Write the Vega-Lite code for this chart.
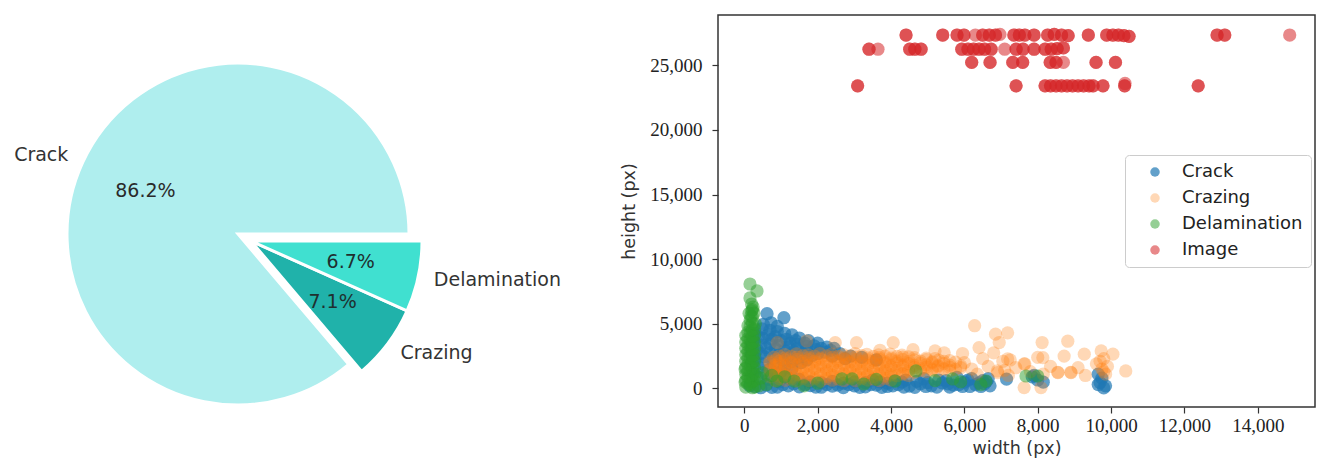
{
  "$schema": "https://vega.github.io/schema/vega-lite/v6.json",
  "background": "white",
  "padding": {"left": 0, "top": 14, "right": 0, "bottom": 0},
  "config": {"view": {"stroke": null}, "font": "DejaVu Sans"},
  "spacing": 243,
  "bounds": "flush",
  "resolve": {"scale": {"color": "independent"}, "legend": {"color": "independent"}},
  "datasets": {
    "pie": [
      {"category": "Crack", "share": 0.862},
      {"category": "Crazing", "share": 0.071},
      {"category": "Delamination", "share": 0.067}
    ],
    "pts": [
      {"type":"Crack","w":300,"h":4250},{"type":"Crack","w":480,"h":4600},{"type":"Crack","w":700,"h":4500},{"type":"Crack","w":900,"h":4400},{"type":"Crack","w":1100,"h":4250},{"type":"Crack","w":1300,"h":4150},{"type":"Crack","w":1500,"h":3900},{"type":"Crack","w":1750,"h":3700},{"type":"Crack","w":2000,"h":3500},{"type":"Crack","w":2250,"h":3200},{"type":"Crack","w":2450,"h":3100},
      {"type":"Crack","w":250,"h":3700},{"type":"Crack","w":500,"h":3900},{"type":"Crack","w":750,"h":3800},{"type":"Crack","w":1000,"h":3700},{"type":"Crack","w":1250,"h":3500},{"type":"Crack","w":1450,"h":3400},{"type":"Crack","w":1700,"h":3250},{"type":"Crack","w":1950,"h":3000},{"type":"Crack","w":2200,"h":2800},{"type":"Crack","w":2600,"h":2700},{"type":"Crack","w":2900,"h":2500},
      {"type":"Crack","w":350,"h":3000},{"type":"Crack","w":600,"h":3150},{"type":"Crack","w":850,"h":3050},{"type":"Crack","w":1100,"h":2950},{"type":"Crack","w":1350,"h":2850},{"type":"Crack","w":1600,"h":2700},{"type":"Crack","w":1850,"h":2550},{"type":"Crack","w":3200,"h":2400},{"type":"Crack","w":3600,"h":2200},
      {"type":"Crack","w":300,"h":2300},{"type":"Crack","w":550,"h":2450},{"type":"Crack","w":800,"h":2350},{"type":"Crack","w":1050,"h":2200},{"type":"Crack","w":1300,"h":2100},{"type":"Crack","w":1550,"h":2000},
      {"type":"Crack","w":400,"h":1600},{"type":"Crack","w":700,"h":1500},{"type":"Crack","w":1000,"h":1300},{"type":"Crack","w":350,"h":900},{"type":"Crack","w":650,"h":700},{"type":"Crack","w":950,"h":500},
      {"type":"Crack","w":400,"h":4000},{"type":"Crack","w":650,"h":4150},{"type":"Crack","w":850,"h":4000},{"type":"Crack","w":1150,"h":3800},{"type":"Crack","w":1400,"h":3700},{"type":"Crack","w":1650,"h":3500},{"type":"Crack","w":1900,"h":3300},{"type":"Crack","w":2100,"h":3100},{"type":"Crack","w":2350,"h":2950},{"type":"Crack","w":450,"h":3350},{"type":"Crack","w":700,"h":3450},{"type":"Crack","w":950,"h":3300},{"type":"Crack","w":1200,"h":3200},{"type":"Crack","w":1450,"h":3050},{"type":"Crack","w":1700,"h":2900},{"type":"Crack","w":2000,"h":2700},{"type":"Crack","w":2400,"h":2500},{"type":"Crack","w":2750,"h":2300},{"type":"Crack","w":450,"h":2700},{"type":"Crack","w":700,"h":2750},{"type":"Crack","w":950,"h":2600},{"type":"Crack","w":1200,"h":2500},{"type":"Crack","w":1450,"h":2350},{"type":"Crack","w":1700,"h":2200},{"type":"Crack","w":200,"h":3300},{"type":"Crack","w":200,"h":2700},{"type":"Crack","w":200,"h":2000},{"type":"Crack","w":250,"h":1200},{"type":"Crack","w":500,"h":1900},{"type":"Crack","w":800,"h":1900},{"type":"Crack","w":1100,"h":1700},{"type":"Crack","w":1300,"h":1500},{"type":"Crack","w":600,"h":1100},{"type":"Crack","w":900,"h":900},{"type":"Crack","w":1200,"h":800},{"type":"Crack","w":1500,"h":700},
      {"type":"Crack","w":620,"h":5780},{"type":"Crack","w":1080,"h":5470},{"type":"Crack","w":730,"h":5080},{"type":"Crack","w":520,"h":4950},{"type":"Crack","w":900,"h":4800},
      {"type":"Crack","w":300,"h":150},{"type":"Crack","w":600,"h":250},{"type":"Crack","w":900,"h":100},{"type":"Crack","w":1200,"h":200},{"type":"Crack","w":1500,"h":120},{"type":"Crack","w":1800,"h":220},{"type":"Crack","w":2100,"h":90},{"type":"Crack","w":2400,"h":180},{"type":"Crack","w":2700,"h":60},{"type":"Crack","w":3000,"h":200},{"type":"Crack","w":3300,"h":120},{"type":"Crack","w":3600,"h":250},{"type":"Crack","w":3900,"h":150},{"type":"Crack","w":4200,"h":300},{"type":"Crack","w":4500,"h":180},{"type":"Crack","w":4800,"h":350},{"type":"Crack","w":5100,"h":200},{"type":"Crack","w":5400,"h":420},{"type":"Crack","w":5700,"h":250},{"type":"Crack","w":6000,"h":480},{"type":"Crack","w":6300,"h":300},{"type":"Crack","w":6600,"h":520},{"type":"Crack","w":6700,"h":200},{"type":"Crack","w":4400,"h":650},{"type":"Crack","w":4900,"h":750},{"type":"Crack","w":5300,"h":650},{"type":"Crack","w":5800,"h":850},{"type":"Crack","w":6200,"h":750},{"type":"Crack","w":6500,"h":600},{"type":"Crack","w":5950,"h":150},{"type":"Crack","w":6450,"h":150},{"type":"Crack","w":3700,"h":500},{"type":"Crack","w":4100,"h":600},
      {"type":"Crack","w":1800,"h":500},{"type":"Crack","w":2100,"h":450},{"type":"Crack","w":2400,"h":550},{"type":"Crack","w":2700,"h":400},{"type":"Crack","w":3000,"h":500},{"type":"Crack","w":3300,"h":450},{"type":"Crack","w":3500,"h":650},{"type":"Crack","w":3900,"h":400},{"type":"Crack","w":4300,"h":480},{"type":"Crack","w":4700,"h":550},{"type":"Crack","w":5000,"h":450},{"type":"Crack","w":5500,"h":600},{"type":"Crack","w":5600,"h":100},{"type":"Crack","w":6100,"h":650},{"type":"Crack","w":6400,"h":420},{"type":"Crack","w":6650,"h":750},
      {"type":"Crack","w":150,"h":200},{"type":"Crack","w":450,"h":50},{"type":"Crack","w":750,"h":80},{"type":"Crack","w":1050,"h":300},{"type":"Crack","w":1350,"h":350},{"type":"Crack","w":1650,"h":300},{"type":"Crack","w":1950,"h":100},{"type":"Crack","w":2250,"h":300},{"type":"Crack","w":2550,"h":250},{"type":"Crack","w":2850,"h":300},{"type":"Crack","w":3150,"h":80},{"type":"Crack","w":3450,"h":300},{"type":"Crack","w":3750,"h":80},{"type":"Crack","w":4050,"h":200},{"type":"Crack","w":4350,"h":100},{"type":"Crack","w":4650,"h":80},{"type":"Crack","w":4950,"h":150},{"type":"Crack","w":5250,"h":100},{"type":"Crack","w":5550,"h":350},{"type":"Crack","w":5850,"h":300},{"type":"Crack","w":6150,"h":150},{"type":"Crack","w":6550,"h":350},
      {"type":"Crack","w":7150,"h":720},{"type":"Crack","w":7850,"h":900},{"type":"Crack","w":8000,"h":650},{"type":"Crack","w":8150,"h":480},{"type":"Crack","w":7900,"h":1000},{"type":"Crack","w":9650,"h":1100},{"type":"Crack","w":9750,"h":800},{"type":"Crack","w":9700,"h":450},{"type":"Crack","w":9850,"h":200},{"type":"Crack","w":9800,"h":40},{"type":"Crack","w":9650,"h":300},

      {"type":"Crazing","w":1100,"h":2620},{"type":"Crazing","w":1420,"h":2680},{"type":"Crazing","w":1740,"h":2600},{"type":"Crazing","w":2060,"h":2700},{"type":"Crazing","w":2380,"h":2650},{"type":"Crazing","w":2700,"h":2610},{"type":"Crazing","w":3020,"h":2690},{"type":"Crazing","w":3340,"h":2640},{"type":"Crazing","w":3660,"h":2600},{"type":"Crazing","w":3980,"h":2660},{"type":"Crazing","w":4300,"h":2580},
      {"type":"Crazing","w":800,"h":2400},{"type":"Crazing","w":1120,"h":2350},{"type":"Crazing","w":1440,"h":2420},{"type":"Crazing","w":1760,"h":2380},{"type":"Crazing","w":2080,"h":2340},{"type":"Crazing","w":2400,"h":2410},{"type":"Crazing","w":2720,"h":2370},{"type":"Crazing","w":3040,"h":2430},{"type":"Crazing","w":3360,"h":2360},{"type":"Crazing","w":3680,"h":2390},{"type":"Crazing","w":4000,"h":2350},{"type":"Crazing","w":4320,"h":2420},{"type":"Crazing","w":4640,"h":2380},{"type":"Crazing","w":4960,"h":2340},{"type":"Crazing","w":5200,"h":2300},
      {"type":"Crazing","w":700,"h":2080},{"type":"Crazing","w":960,"h":2120},{"type":"Crazing","w":1280,"h":2060},{"type":"Crazing","w":1600,"h":2110},{"type":"Crazing","w":1920,"h":2090},{"type":"Crazing","w":2240,"h":2050},{"type":"Crazing","w":2560,"h":2130},{"type":"Crazing","w":2880,"h":2070},{"type":"Crazing","w":3200,"h":2100},{"type":"Crazing","w":3520,"h":2140},{"type":"Crazing","w":3840,"h":2060},{"type":"Crazing","w":4160,"h":2110},{"type":"Crazing","w":4480,"h":2080},{"type":"Crazing","w":4800,"h":2120},{"type":"Crazing","w":5120,"h":2050},{"type":"Crazing","w":5440,"h":2100},{"type":"Crazing","w":5760,"h":2030},
      {"type":"Crazing","w":850,"h":1800},{"type":"Crazing","w":1120,"h":1760},{"type":"Crazing","w":1440,"h":1830},{"type":"Crazing","w":1760,"h":1790},{"type":"Crazing","w":2080,"h":1810},{"type":"Crazing","w":2400,"h":1770},{"type":"Crazing","w":2720,"h":1840},{"type":"Crazing","w":3040,"h":1800},{"type":"Crazing","w":3360,"h":1780},{"type":"Crazing","w":3680,"h":1820},{"type":"Crazing","w":4000,"h":1760},{"type":"Crazing","w":4320,"h":1810},{"type":"Crazing","w":4640,"h":1790},{"type":"Crazing","w":4960,"h":1830},{"type":"Crazing","w":5280,"h":1770},{"type":"Crazing","w":5600,"h":1800},{"type":"Crazing","w":5900,"h":1750},
      {"type":"Crazing","w":700,"h":1500},{"type":"Crazing","w":960,"h":1470},{"type":"Crazing","w":1280,"h":1520},{"type":"Crazing","w":1600,"h":1490},{"type":"Crazing","w":1920,"h":1530},{"type":"Crazing","w":2240,"h":1460},{"type":"Crazing","w":2560,"h":1510},{"type":"Crazing","w":2880,"h":1480},{"type":"Crazing","w":3200,"h":1520},{"type":"Crazing","w":3520,"h":1470},{"type":"Crazing","w":3840,"h":1500},{"type":"Crazing","w":4160,"h":1530},{"type":"Crazing","w":4480,"h":1460},{"type":"Crazing","w":4800,"h":1510},{"type":"Crazing","w":5120,"h":1490},{"type":"Crazing","w":5440,"h":1520},{"type":"Crazing","w":5760,"h":1470},
      {"type":"Crazing","w":850,"h":1200},{"type":"Crazing","w":1120,"h":1230},{"type":"Crazing","w":1440,"h":1170},{"type":"Crazing","w":1760,"h":1210},{"type":"Crazing","w":2080,"h":1190},{"type":"Crazing","w":2400,"h":1240},{"type":"Crazing","w":2720,"h":1180},{"type":"Crazing","w":3040,"h":1220},{"type":"Crazing","w":3360,"h":1200},{"type":"Crazing","w":3680,"h":1170},{"type":"Crazing","w":4000,"h":1230},{"type":"Crazing","w":4320,"h":1190},{"type":"Crazing","w":4640,"h":1250},{"type":"Crazing","w":4960,"h":1300},{"type":"Crazing","w":5280,"h":1350},{"type":"Crazing","w":5600,"h":1380},
      {"type":"Crazing","w":700,"h":900},{"type":"Crazing","w":960,"h":930},{"type":"Crazing","w":1280,"h":880},{"type":"Crazing","w":1600,"h":910},{"type":"Crazing","w":1920,"h":870},{"type":"Crazing","w":2240,"h":920},{"type":"Crazing","w":2560,"h":900},{"type":"Crazing","w":2880,"h":940},{"type":"Crazing","w":3200,"h":880},{"type":"Crazing","w":3520,"h":910},{"type":"Crazing","w":3840,"h":950},{"type":"Crazing","w":4160,"h":980},{"type":"Crazing","w":4480,"h":1000},
      {"type":"Crazing","w":850,"h":600},{"type":"Crazing","w":1120,"h":620},{"type":"Crazing","w":1440,"h":580},{"type":"Crazing","w":1760,"h":610},{"type":"Crazing","w":2080,"h":570},{"type":"Crazing","w":2400,"h":630},{"type":"Crazing","w":2720,"h":600},{"type":"Crazing","w":3040,"h":590},{"type":"Crazing","w":3360,"h":640},{"type":"Crazing","w":3680,"h":610},{"type":"Crazing","w":4000,"h":650},
      {"type":"Crazing","w":960,"h":2500},{"type":"Crazing","w":1280,"h":2480},{"type":"Crazing","w":1600,"h":2530},{"type":"Crazing","w":1920,"h":2490},{"type":"Crazing","w":2240,"h":2520},{"type":"Crazing","w":2560,"h":2470},{"type":"Crazing","w":2880,"h":2510},{"type":"Crazing","w":3200,"h":2540},{"type":"Crazing","w":3520,"h":2480},{"type":"Crazing","w":3840,"h":2500},{"type":"Crazing","w":4160,"h":2470},{"type":"Crazing","w":4480,"h":2450},
      {"type":"Crazing","w":860,"h":2230},{"type":"Crazing","w":1120,"h":2210},{"type":"Crazing","w":1440,"h":2250},{"type":"Crazing","w":1760,"h":2220},{"type":"Crazing","w":2080,"h":2240},{"type":"Crazing","w":2400,"h":2200},{"type":"Crazing","w":2720,"h":2260},{"type":"Crazing","w":3040,"h":2230},{"type":"Crazing","w":3360,"h":2210},{"type":"Crazing","w":3680,"h":2250},{"type":"Crazing","w":4000,"h":2220},{"type":"Crazing","w":4320,"h":2240},{"type":"Crazing","w":4640,"h":2200},{"type":"Crazing","w":4960,"h":2230},{"type":"Crazing","w":5300,"h":2190},{"type":"Crazing","w":5600,"h":2150},
      {"type":"Crazing","w":700,"h":1950},{"type":"Crazing","w":960,"h":1930},{"type":"Crazing","w":1280,"h":1970},{"type":"Crazing","w":1600,"h":1940},{"type":"Crazing","w":1920,"h":1960},{"type":"Crazing","w":2240,"h":1920},{"type":"Crazing","w":2560,"h":1980},{"type":"Crazing","w":2880,"h":1950},{"type":"Crazing","w":3200,"h":1930},{"type":"Crazing","w":3520,"h":1970},{"type":"Crazing","w":3840,"h":1940},{"type":"Crazing","w":4160,"h":1960},{"type":"Crazing","w":4480,"h":1920},{"type":"Crazing","w":4800,"h":1950},{"type":"Crazing","w":5120,"h":1980},{"type":"Crazing","w":5440,"h":1940},
      {"type":"Crazing","w":850,"h":1650},{"type":"Crazing","w":1120,"h":1630},{"type":"Crazing","w":1440,"h":1670},{"type":"Crazing","w":1760,"h":1640},{"type":"Crazing","w":2080,"h":1660},{"type":"Crazing","w":2400,"h":1620},{"type":"Crazing","w":2720,"h":1680},{"type":"Crazing","w":3040,"h":1650},{"type":"Crazing","w":3360,"h":1630},{"type":"Crazing","w":3680,"h":1670},{"type":"Crazing","w":4000,"h":1640},{"type":"Crazing","w":4320,"h":1660},{"type":"Crazing","w":4640,"h":1620},{"type":"Crazing","w":4960,"h":1650},{"type":"Crazing","w":5280,"h":1680},{"type":"Crazing","w":5600,"h":1640},{"type":"Crazing","w":5900,"h":1600},
      {"type":"Crazing","w":700,"h":1350},{"type":"Crazing","w":960,"h":1330},{"type":"Crazing","w":1280,"h":1370},{"type":"Crazing","w":1600,"h":1340},{"type":"Crazing","w":1920,"h":1360},{"type":"Crazing","w":2240,"h":1320},{"type":"Crazing","w":2560,"h":1380},{"type":"Crazing","w":2880,"h":1350},{"type":"Crazing","w":3200,"h":1330},{"type":"Crazing","w":3520,"h":1370},{"type":"Crazing","w":3840,"h":1340},{"type":"Crazing","w":4160,"h":1360},{"type":"Crazing","w":4480,"h":1320},{"type":"Crazing","w":4800,"h":1380},{"type":"Crazing","w":5120,"h":1400},
      {"type":"Crazing","w":850,"h":1050},{"type":"Crazing","w":1120,"h":1030},{"type":"Crazing","w":1440,"h":1070},{"type":"Crazing","w":1760,"h":1040},{"type":"Crazing","w":2080,"h":1060},{"type":"Crazing","w":2400,"h":1020},{"type":"Crazing","w":2720,"h":1080},{"type":"Crazing","w":3040,"h":1050},{"type":"Crazing","w":3360,"h":1030},{"type":"Crazing","w":3680,"h":1070},{"type":"Crazing","w":4000,"h":1040},{"type":"Crazing","w":4320,"h":1100},
      {"type":"Crazing","w":960,"h":750},{"type":"Crazing","w":1280,"h":730},{"type":"Crazing","w":1600,"h":770},{"type":"Crazing","w":1920,"h":740},{"type":"Crazing","w":2240,"h":760},{"type":"Crazing","w":2560,"h":720},{"type":"Crazing","w":2880,"h":780},{"type":"Crazing","w":3200,"h":750},{"type":"Crazing","w":3520,"h":730},{"type":"Crazing","w":3840,"h":770},
      {"type":"Crazing","w":6000,"h":2000},{"type":"Crazing","w":6200,"h":1500},{"type":"Crazing","w":6350,"h":1100},{"type":"Crazing","w":6500,"h":2300},{"type":"Crazing","w":6650,"h":1700},{"type":"Crazing","w":6900,"h":1350},{"type":"Crazing","w":7050,"h":2100},{"type":"Crazing","w":7200,"h":1000},{"type":"Crazing","w":7400,"h":1600},{"type":"Crazing","w":7650,"h":1900},{"type":"Crazing","w":7800,"h":1300},{"type":"Crazing","w":8000,"h":2400},{"type":"Crazing","w":8150,"h":1100},{"type":"Crazing","w":8350,"h":1700},{"type":"Crazing","w":8550,"h":1250},{"type":"Crazing","w":8720,"h":2500},{"type":"Crazing","w":8900,"h":1250},{"type":"Crazing","w":9100,"h":1600},{"type":"Crazing","w":9300,"h":1000},{"type":"Crazing","w":9600,"h":1900},{"type":"Crazing","w":9750,"h":1500},{"type":"Crazing","w":9800,"h":2300},{"type":"Crazing","w":9850,"h":1100},{"type":"Crazing","w":9900,"h":1700},{"type":"Crazing","w":10050,"h":2650},{"type":"Crazing","w":10400,"h":1350},
      {"type":"Crazing","w":6280,"h":4850},{"type":"Crazing","w":6850,"h":4200},{"type":"Crazing","w":7180,"h":4300},{"type":"Crazing","w":6950,"h":3550},{"type":"Crazing","w":8120,"h":3550},{"type":"Crazing","w":8820,"h":3650},{"type":"Crazing","w":6400,"h":3150},{"type":"Crazing","w":5950,"h":2700},{"type":"Crazing","w":5450,"h":2750},{"type":"Crazing","w":6800,"h":2750},{"type":"Crazing","w":9270,"h":2650},{"type":"Crazing","w":9730,"h":2900},{"type":"Crazing","w":8140,"h":2380},{"type":"Crazing","w":7180,"h":2280},{"type":"Crazing","w":7630,"h":1890},{"type":"Crazing","w":8550,"h":1220},{"type":"Crazing","w":8910,"h":1220},{"type":"Crazing","w":6910,"h":1220},{"type":"Crazing","w":7630,"h":60},{"type":"Crazing","w":8090,"h":60},{"type":"Crazing","w":2480,"h":3540},{"type":"Crazing","w":3060,"h":3540},{"type":"Crazing","w":4060,"h":3540},{"type":"Crazing","w":1700,"h":3670},{"type":"Crazing","w":900,"h":3540},{"type":"Crazing","w":5200,"h":2900},{"type":"Crazing","w":4600,"h":3000},{"type":"Crazing","w":3700,"h":2950},{"type":"Crazing","w":7100,"h":1400},{"type":"Crazing","w":7250,"h":2200},{"type":"Crazing","w":9800,"h":1300},{"type":"Crazing","w":9700,"h":2100},

      {"type":"Delamination","w":40,"h":100},{"type":"Delamination","w":40,"h":600},{"type":"Delamination","w":40,"h":1100},{"type":"Delamination","w":40,"h":1600},{"type":"Delamination","w":40,"h":2100},{"type":"Delamination","w":40,"h":2600},{"type":"Delamination","w":40,"h":3100},{"type":"Delamination","w":40,"h":3600},{"type":"Delamination","w":40,"h":4100},
      {"type":"Delamination","w":160,"h":300},{"type":"Delamination","w":160,"h":800},{"type":"Delamination","w":160,"h":1300},{"type":"Delamination","w":160,"h":1800},{"type":"Delamination","w":160,"h":2300},{"type":"Delamination","w":160,"h":2800},{"type":"Delamination","w":160,"h":3300},{"type":"Delamination","w":160,"h":3800},{"type":"Delamination","w":160,"h":4300},{"type":"Delamination","w":160,"h":4800},{"type":"Delamination","w":160,"h":5300},
      {"type":"Delamination","w":280,"h":100},{"type":"Delamination","w":280,"h":600},{"type":"Delamination","w":280,"h":1100},{"type":"Delamination","w":280,"h":1600},{"type":"Delamination","w":280,"h":2100},{"type":"Delamination","w":280,"h":2600},{"type":"Delamination","w":280,"h":3100},{"type":"Delamination","w":280,"h":3600},{"type":"Delamination","w":280,"h":4100},{"type":"Delamination","w":280,"h":4600},
      {"type":"Delamination","w":100,"h":350},{"type":"Delamination","w":100,"h":850},{"type":"Delamination","w":100,"h":1350},{"type":"Delamination","w":100,"h":1850},{"type":"Delamination","w":100,"h":2350},{"type":"Delamination","w":100,"h":2850},{"type":"Delamination","w":100,"h":3350},{"type":"Delamination","w":100,"h":3850},{"type":"Delamination","w":100,"h":4350},{"type":"Delamination","w":100,"h":4850},
      {"type":"Delamination","w":220,"h":50},{"type":"Delamination","w":220,"h":550},{"type":"Delamination","w":220,"h":1050},{"type":"Delamination","w":220,"h":1550},{"type":"Delamination","w":220,"h":2050},{"type":"Delamination","w":220,"h":2550},{"type":"Delamination","w":220,"h":3050},{"type":"Delamination","w":220,"h":3550},{"type":"Delamination","w":220,"h":4050},{"type":"Delamination","w":220,"h":4550},{"type":"Delamination","w":220,"h":5050},{"type":"Delamination","w":220,"h":5550},
      {"type":"Delamination","w":155,"h":8080},{"type":"Delamination","w":346,"h":7540},{"type":"Delamination","w":155,"h":7000},{"type":"Delamination","w":200,"h":6530},{"type":"Delamination","w":265,"h":5835},{"type":"Delamination","w":220,"h":6100},{"type":"Delamination","w":180,"h":5600},{"type":"Delamination","w":300,"h":5000},{"type":"Delamination","w":200,"h":6000},{"type":"Delamination","w":240,"h":6300},{"type":"Delamination","w":130,"h":5800},{"type":"Delamination","w":20,"h":500},{"type":"Delamination","w":20,"h":1500},{"type":"Delamination","w":400,"h":200},{"type":"Delamination","w":450,"h":800},
      {"type":"Delamination","w":600,"h":300},{"type":"Delamination","w":890,"h":570},{"type":"Delamination","w":1100,"h":900},{"type":"Delamination","w":1360,"h":570},{"type":"Delamination","w":1630,"h":190},{"type":"Delamination","w":2660,"h":730},{"type":"Delamination","w":2940,"h":730},{"type":"Delamination","w":3260,"h":340},{"type":"Delamination","w":4110,"h":570},{"type":"Delamination","w":4680,"h":1350},{"type":"Delamination","w":5680,"h":730},{"type":"Delamination","w":5900,"h":500},{"type":"Delamination","w":6590,"h":570},{"type":"Delamination","w":6450,"h":300},{"type":"Delamination","w":7680,"h":960},{"type":"Delamination","w":8000,"h":960},{"type":"Delamination","w":500,"h":1200},{"type":"Delamination","w":750,"h":1000},{"type":"Delamination","w":2000,"h":400},{"type":"Delamination","w":3600,"h":700},{"type":"Delamination","w":5200,"h":600},

      {"type":"Image","w":4410,"h":27350},{"type":"Image","w":4410,"h":27350},{"type":"Image","w":5410,"h":27350},{"type":"Image","w":5410,"h":27350},{"type":"Image","w":5800,"h":27350},{"type":"Image","w":5800,"h":27350},{"type":"Image","w":5990,"h":27350},{"type":"Image","w":5990,"h":27350},{"type":"Image","w":6500,"h":27350},{"type":"Image","w":6500,"h":27350},{"type":"Image","w":6680,"h":27350},{"type":"Image","w":6680,"h":27350},{"type":"Image","w":6850,"h":27350},{"type":"Image","w":6850,"h":27350},{"type":"Image","w":7350,"h":27350},{"type":"Image","w":7350,"h":27350},{"type":"Image","w":7500,"h":27350},{"type":"Image","w":7500,"h":27350},{"type":"Image","w":7650,"h":27350},{"type":"Image","w":7650,"h":27350},{"type":"Image","w":7900,"h":27350},{"type":"Image","w":7900,"h":27350},{"type":"Image","w":8270,"h":27350},{"type":"Image","w":8270,"h":27350},{"type":"Image","w":8450,"h":27400},{"type":"Image","w":8450,"h":27400},{"type":"Image","w":8650,"h":27350},{"type":"Image","w":8650,"h":27350},{"type":"Image","w":8830,"h":27300},{"type":"Image","w":8830,"h":27300},{"type":"Image","w":9380,"h":27350},{"type":"Image","w":9380,"h":27350},{"type":"Image","w":9880,"h":27350},{"type":"Image","w":9880,"h":27350},{"type":"Image","w":10050,"h":27350},{"type":"Image","w":10050,"h":27350},{"type":"Image","w":10200,"h":27350},{"type":"Image","w":10200,"h":27350},{"type":"Image","w":10350,"h":27300},{"type":"Image","w":10350,"h":27300},{"type":"Image","w":10490,"h":27250},{"type":"Image","w":10490,"h":27250},{"type":"Image","w":12890,"h":27350},{"type":"Image","w":12890,"h":27350},{"type":"Image","w":13100,"h":27350},{"type":"Image","w":13100,"h":27350},{"type":"Image","w":6300,"h":27350},{"type":"Image","w":6970,"h":27400},{"type":"Image","w":14870,"h":27350},
      {"type":"Image","w":3400,"h":26250},{"type":"Image","w":3400,"h":26250},{"type":"Image","w":3645,"h":26250},{"type":"Image","w":4510,"h":26250},{"type":"Image","w":4510,"h":26250},{"type":"Image","w":4650,"h":26250},{"type":"Image","w":4650,"h":26250},{"type":"Image","w":4820,"h":26250},{"type":"Image","w":4820,"h":26250},{"type":"Image","w":5930,"h":26250},{"type":"Image","w":5930,"h":26250},{"type":"Image","w":6100,"h":26250},{"type":"Image","w":6100,"h":26250},{"type":"Image","w":6250,"h":26250},{"type":"Image","w":6250,"h":26250},{"type":"Image","w":6400,"h":26250},{"type":"Image","w":6400,"h":26250},{"type":"Image","w":6550,"h":26250},{"type":"Image","w":6550,"h":26250},{"type":"Image","w":6730,"h":26250},{"type":"Image","w":6730,"h":26250},{"type":"Image","w":7100,"h":26250},{"type":"Image","w":7410,"h":26250},{"type":"Image","w":7410,"h":26250},{"type":"Image","w":7600,"h":26250},{"type":"Image","w":7600,"h":26250},{"type":"Image","w":7900,"h":26250},{"type":"Image","w":7900,"h":26250},{"type":"Image","w":8200,"h":26250},{"type":"Image","w":8200,"h":26250},{"type":"Image","w":8370,"h":26250},{"type":"Image","w":8370,"h":26250},{"type":"Image","w":8530,"h":26300},{"type":"Image","w":8530,"h":26300},{"type":"Image","w":8700,"h":26350},{"type":"Image","w":8700,"h":26350},
      {"type":"Image","w":6200,"h":25230},{"type":"Image","w":6200,"h":25230},{"type":"Image","w":6700,"h":25230},{"type":"Image","w":6700,"h":25230},{"type":"Image","w":7320,"h":25230},{"type":"Image","w":7320,"h":25230},{"type":"Image","w":7590,"h":25230},{"type":"Image","w":7590,"h":25230},{"type":"Image","w":8340,"h":25230},{"type":"Image","w":8340,"h":25230},{"type":"Image","w":8500,"h":25230},{"type":"Image","w":8500,"h":25230},{"type":"Image","w":8700,"h":25230},{"type":"Image","w":9590,"h":25230},{"type":"Image","w":9590,"h":25230},{"type":"Image","w":10120,"h":25230},{"type":"Image","w":10120,"h":25230},
      {"type":"Image","w":3090,"h":23420},{"type":"Image","w":3090,"h":23420},{"type":"Image","w":7410,"h":23420},{"type":"Image","w":7410,"h":23420},{"type":"Image","w":8200,"h":23420},{"type":"Image","w":8200,"h":23420},{"type":"Image","w":8350,"h":23420},{"type":"Image","w":8350,"h":23420},{"type":"Image","w":8500,"h":23420},{"type":"Image","w":8500,"h":23420},{"type":"Image","w":8650,"h":23420},{"type":"Image","w":8650,"h":23420},{"type":"Image","w":8800,"h":23420},{"type":"Image","w":8800,"h":23420},{"type":"Image","w":8950,"h":23420},{"type":"Image","w":8950,"h":23420},{"type":"Image","w":9100,"h":23420},{"type":"Image","w":9100,"h":23420},{"type":"Image","w":9250,"h":23420},{"type":"Image","w":9250,"h":23420},{"type":"Image","w":9400,"h":23420},{"type":"Image","w":9400,"h":23420},{"type":"Image","w":9510,"h":23420},{"type":"Image","w":9510,"h":23420},{"type":"Image","w":9780,"h":23420},{"type":"Image","w":9780,"h":23420},{"type":"Image","w":10370,"h":23420},{"type":"Image","w":10370,"h":23420},{"type":"Image","w":10380,"h":23600},{"type":"Image","w":12375,"h":23420},{"type":"Image","w":12375,"h":23420}
    ]
  },
  "hconcat": [
    {
      "width": 474,
      "height": 438,
      "view": {"stroke": "transparent"},
      "data": {"name": "pie"},
      "encoding": {
        "theta": {"field": "share", "type": "quantitative", "stack": true, "scale": {"range": [1.5708, 7.854]}},
        "order": {"field": "category", "sort": "descending"},
        "color": {"field": "category", "type": "nominal", "scale": {"domain": ["Crack", "Crazing", "Delamination"], "range": ["#afeeee", "#20b2aa", "#40e0d0"]}, "legend": null}
      },
      "layer": [
        {
          "mark": {"type": "arc", "outerRadius": 171, "stroke": "white", "strokeWidth": 3},
          "encoding": {"opacity": {"condition": {"test": "datum.category === 'Crack'", "value": 1}, "value": 0}}
        },
        {
          "mark": {"type": "arc", "outerRadius": 171, "stroke": "white", "strokeWidth": 3, "xOffset": 13, "yOffset": 7},
          "encoding": {"opacity": {"condition": {"test": "datum.category !== 'Crack'", "value": 1}, "value": 0}}
        },
        {
          "mark": {"type": "text", "radius": 187, "align": "right", "baseline": "middle", "fontSize": 19, "font": "DejaVu Sans"},
          "encoding": {
            "text": {"condition": {"test": "datum.category === 'Crack'", "field": "category", "type": "nominal"}, "value": ""},
            "color": {"value": "#333333"}
          }
        },
        {
          "mark": {"type": "text", "radius": 187, "align": "left", "baseline": "middle", "fontSize": 19, "font": "DejaVu Sans", "xOffset": 13, "yOffset": 7},
          "encoding": {
            "text": {"condition": {"test": "datum.category !== 'Crack'", "field": "category", "type": "nominal"}, "value": ""},
            "color": {"value": "#333333"}
          }
        },
        {
          "mark": {"type": "text", "radius": 102, "align": "center", "baseline": "middle", "fontSize": 19, "font": "DejaVu Sans"},
          "encoding": {
            "text": {"condition": {"test": "datum.category === 'Crack'", "field": "share", "type": "quantitative", "format": ".1%"}, "value": ""},
            "color": {"value": "#2a2a2a"}
          }
        },
        {
          "mark": {"type": "text", "radius": 102, "align": "center", "baseline": "middle", "fontSize": 19, "font": "DejaVu Sans", "xOffset": 13, "yOffset": 7},
          "encoding": {
            "text": {"condition": {"test": "datum.category !== 'Crack'", "field": "share", "type": "quantitative", "format": ".1%"}, "value": ""},
            "color": {"value": "#1f2f2f"}
          }
        }
      ]
    },
    {
      "width": 597,
      "height": 392,
      "view": {"stroke": "#333333", "strokeWidth": 1.5},
      "data": {"name": "pts"},
      "mark": {"type": "point", "filled": true, "size": 175, "strokeWidth": 0, "opacity": 1},
      "encoding": {
        "x": {
          "field": "w", "type": "quantitative",
          "scale": {"domain": [-717, 15560], "nice": false, "zero": false},
          "axis": {"values": [0, 2000, 4000, 6000, 8000, 10000, 12000, 14000], "format": ",.0f", "title": "width (px)", "grid": false, "domain": false,
                   "labelFont": "Liberation Serif", "labelFontSize": 19, "labelColor": "#222222", "labelPadding": 3, "labelFlush": false, "labelOverlap": false,
                   "tickColor": "#333333", "tickSize": 6, "tickWidth": 1.2,
                   "titleFont": "DejaVu Sans", "titleFontSize": 17.5, "titleFontWeight": "normal", "titleColor": "#333333", "titlePadding": 4}
        },
        "y": {
          "field": "h", "type": "quantitative",
          "scale": {"domain": [-1440, 28900], "nice": false, "zero": false},
          "axis": {"values": [0, 5000, 10000, 15000, 20000, 25000], "format": ",.0f", "title": "height (px)", "grid": false, "domain": false,
                   "labelFont": "Liberation Serif", "labelFontSize": 19, "labelColor": "#222222", "labelPadding": 10, "labelFlush": false, "labelOverlap": false,
                   "tickColor": "#333333", "tickSize": 6, "tickWidth": 1.2,
                   "titleFont": "DejaVu Sans", "titleFontSize": 17.5, "titleFontWeight": "normal", "titleColor": "#333333", "titlePadding": 11}
        },
        "color": {
          "field": "type", "type": "nominal",
          "scale": {"domain": ["Crack", "Crazing", "Delamination", "Image"], "range": ["rgba(31,119,180,0.7)", "rgba(255,127,14,0.3)", "rgba(44,160,44,0.5)", "rgba(214,39,40,0.55)"]},
          "legend": {"title": null, "orient": "none", "legendX": 407, "legendY": 140, "padding": 8, "rowPadding": 8, "symbolType": "circle", "symbolSize": 90, "symbolStrokeWidth": 0, "symbolOpacity": 1, "symbolOffset": 13, "labelOffset": 18, "labelFont": "DejaVu Sans", "labelFontSize": 18, "labelColor": "#222222", "fillColor": "white", "strokeColor": "#cccccc", "cornerRadius": 4, "labelLimit": 300}
        }
      }
    }
  ]
}
